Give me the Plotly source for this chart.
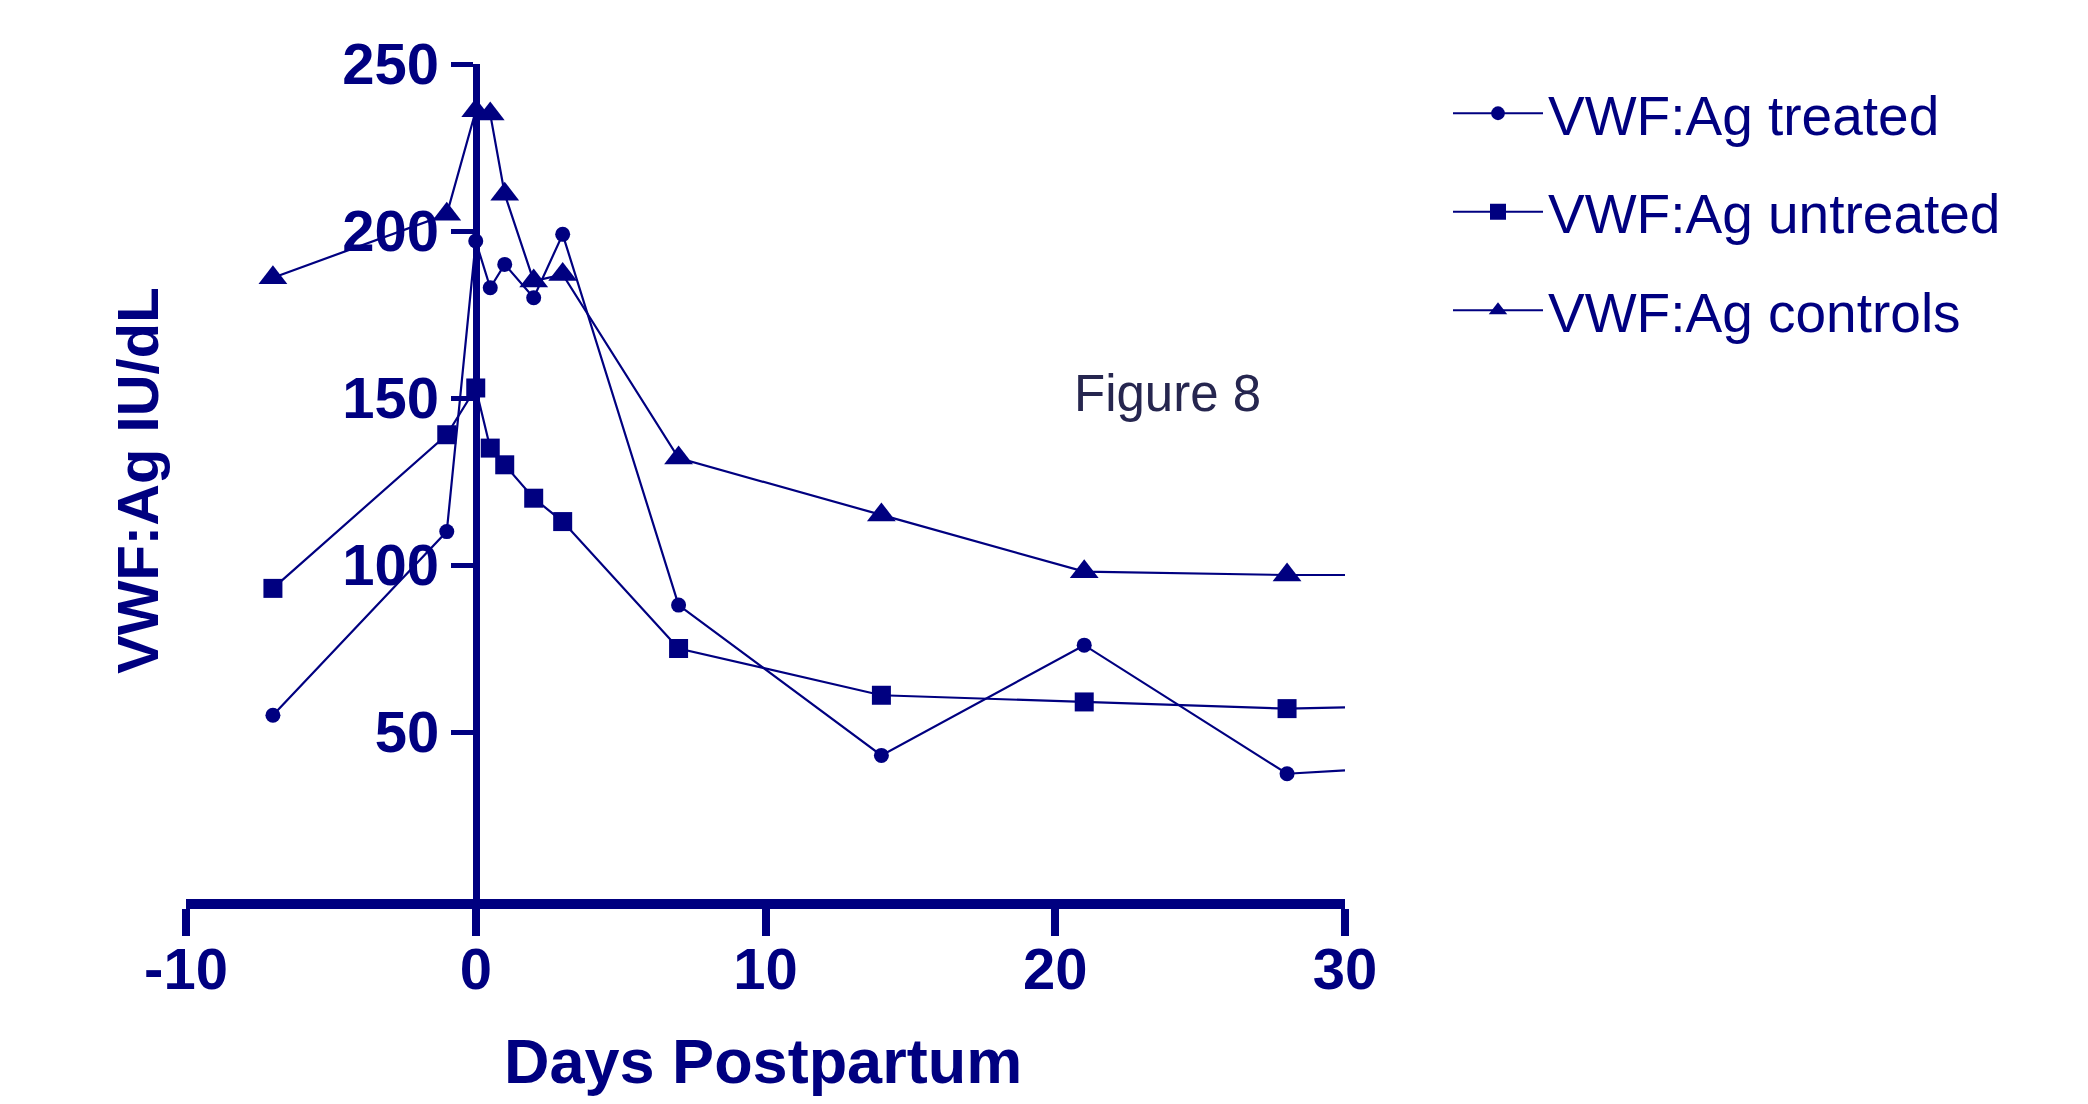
import plotly.graph_objects as go

# ---- data ----
days = [-7, -1, 0, 0.5, 1, 2, 3, 7, 14, 21, 28, 30]
treated = [55, 110, 197, 183, 190, 180, 199, 88, 43, 76, 37.5, 38.5]
untreated = [93, 139, 153, 135, 130, 120, 113, 75, 61, 59, 57, 57.4]
controls = [186, 205, 236, 235, 211, 185, 187, 132, 115, 98, 97, 97]

series_names = ["VWF:Ag treated", "VWF:Ag untreated", "VWF:Ag controls"]
x_tick_vals = [-10, 0, 10, 20, 30]
x_tick_labels = ["-10", "0", "10", "20", "30"]
y_tick_vals = [50, 100, 150, 200, 250]
y_tick_labels = ["50", "100", "150", "200", "250"]

NAVY = "#000080"
FONT = "Liberation Sans, Arial, sans-serif"

# page offset from the default body margin
OFF = 8
W_FIG, H_FIG = 2080, 1096
# plot-area geometry in page pixels
L, R, T, B = 186, 1345, 64, 899
PW, PH = R - L, B - T


def px(xp):
    return (xp - L) / PW


def py(yp):
    return (B - yp) / PH


def sizes(n, s):
    # last point only continues the line to the axis end (no marker drawn)
    return [s] * (n - 1) + [0]


fig = go.Figure()
specs = [
    (treated, "circle", 15),
    (untreated, "square", 19),
    (controls, "triangle-up", 25),
]
for name, (vals, sym, sz) in zip(series_names, specs):
    fig.add_trace(go.Scatter(
        x=days, y=vals, name=name, legendgroup=name,
        mode="lines+markers",
        line=dict(color=NAVY, width=2.2),
        marker=dict(symbol=sym, size=sizes(len(vals), sz), color=NAVY,
                    opacity=1, line=dict(width=0)),
    ))

fig.update_layout(
    width=W_FIG, height=H_FIG, autosize=False,
    margin=dict(l=L - OFF, r=W_FIG - (R - OFF), t=T - OFF,
                b=H_FIG - (B - OFF), pad=0),
    paper_bgcolor="white", plot_bgcolor="white",
    font=dict(family=FONT, color=NAVY),
    showlegend=True,
    legend=dict(
        x=px(1448), y=py(71), xanchor="left", yanchor="top",
        font=dict(family=FONT, size=55, color=NAVY),
        tracegroupgap=24, traceorder="grouped",
        itemwidth=90, bgcolor="rgba(0,0,0,0)",
    ),
    xaxis=dict(
        range=[-10, 30], tickvals=x_tick_vals, ticktext=x_tick_labels,
        showgrid=False, zeroline=False,
        showline=True, linecolor=NAVY, linewidth=10,
        ticks="outside", ticklen=27, tickwidth=8, tickcolor=NAVY,
        tickfont=dict(family=FONT, size=58, color=NAVY, weight="bold"),
        ticklabelstandoff=-17,
    ),
    yaxis=dict(
        range=[0, 250], tickvals=y_tick_vals, ticktext=y_tick_labels,
        anchor="free", position=0.25,
        showgrid=False, zeroline=False,
        showline=True, linecolor=NAVY, linewidth=7,
        ticks="outside", ticklen=22, tickwidth=5, tickcolor=NAVY,
        tickfont=dict(family=FONT, size=58, color=NAVY, weight="bold"),
    ),
    annotations=[
        dict(text="VWF:Ag IU/dL", xref="paper", yref="paper",
             x=px(137), y=py(481), xanchor="center", yanchor="middle",
             textangle=-90, showarrow=False,
             font=dict(family=FONT, size=58, color=NAVY, weight="bold")),
        dict(text="Days Postpartum", xref="paper", yref="paper",
             x=px(763), y=py(1061), xanchor="center", yanchor="middle",
             showarrow=False,
             font=dict(family=FONT, size=63, color=NAVY, weight="bold")),
        dict(text="Figure 8", xref="paper", yref="paper",
             x=px(1167), y=py(393), xanchor="center", yanchor="middle",
             showarrow=False,
             font=dict(family=FONT, size=51, color="#26264f")),
    ],
)

fig.write_html("out.html")
